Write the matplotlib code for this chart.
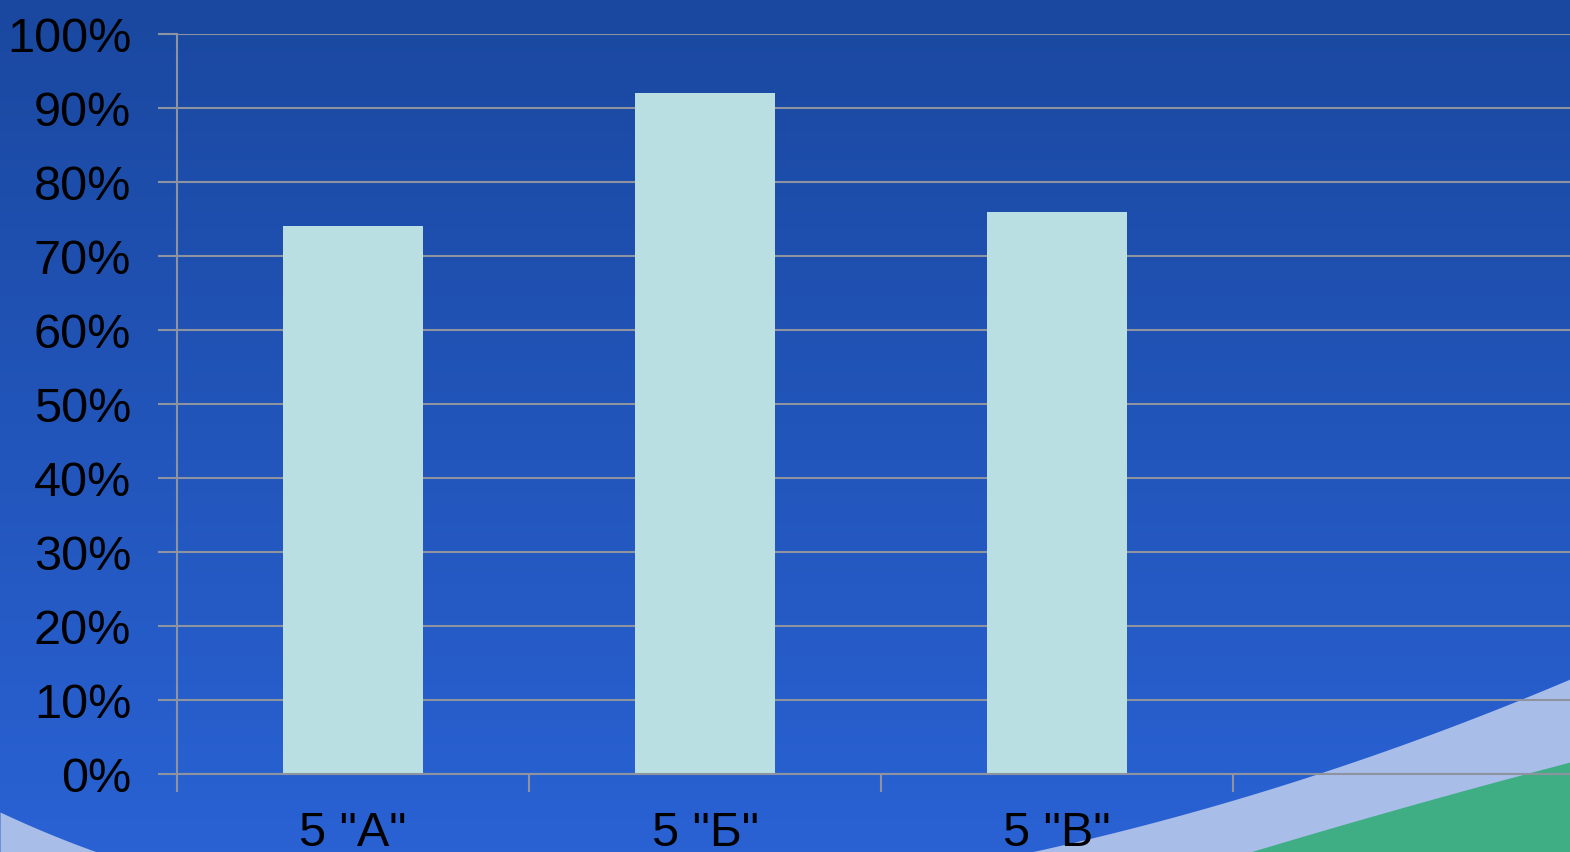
import numpy as np
import matplotlib
matplotlib.use("Agg")
import matplotlib.pyplot as plt
from matplotlib.ticker import FuncFormatter

# chart data
categories = ['5 "А"', '5 "Б"', '5 "В"', '']
values = [0.74, 0.92, 0.76, np.nan]
y_ticks = [0.0, 0.1, 0.2, 0.3, 0.4, 0.5, 0.6, 0.7, 0.8, 0.9, 1.0]

W, H = 1570, 853
plt.rcParams['font.family'] = ['Liberation Sans', 'DejaVu Sans']

fig = plt.figure(figsize=(W / 100, H / 100), dpi=100)

# background: blue gradient plus the slide's corner swooshes
bg = fig.add_axes([0, 0, 1, 1])
bg.set_xlim(0, W)
bg.set_ylim(H, 0)
bg.axis('off')
grad = np.linspace(0, 1, 256)[:, None]
top = np.array([0x1a, 0x48, 0xa0]) / 255
bottom = np.array([0x2a, 0x62, 0xd4]) / 255
img = top + (bottom - top) * grad[..., None]
img = np.repeat(img, 2, axis=1)
bg.imshow(img, extent=[0, W, H, 0], aspect='auto', zorder=0)

xs = np.linspace(1000, W, 80)
light_fit = np.polyfit([1100, 1317, 1570], [837, 775, 680], 2)
ly = np.polyval(light_fit, xs)
bg.fill_between(xs, ly, H + 5, color='#a9bde9', zorder=1, linewidth=0)
xg = np.linspace(1200, W, 80)
green_fit = np.polyfit([1250, 1433, 1570], [853, 800, 763], 2)
gy = np.polyval(green_fit, xg)
bg.fill_between(xg, gy, H + 5, color='#3fae84', zorder=2, linewidth=0)
xl = np.linspace(0, 110, 40)
left_fit = np.polyfit([0, 50, 97], [813, 835, 853], 2)
bg.fill_between(xl, np.polyval(left_fit, xl), H + 5, color='#a9bde9', zorder=1, linewidth=0)

# main chart axes (it runs off the right edge like the original)
left = 177 / W
bot = (H - 775) / H
ax = fig.add_axes([left, bot, 1408 / W, 740 / H])
ax.patch.set_alpha(0)

x = np.arange(len(categories))
ax.bar(x, values, width=0.4, color='#b9dfe2', zorder=3)

ax.set_xlim(-0.5, len(categories) - 0.5)
ax.set_ylim(0, 1)
ax.set_yticks(y_ticks)
ax.yaxis.set_major_formatter(FuncFormatter(lambda v, p: f'{v * 100:.0f}%'))
ax.set_xticks(x)
ax.set_xticklabels(categories)
ax.set_xticks(np.arange(len(categories) + 1) - 0.5, minor=True)

grey = '#8e93a0'
ax.grid(axis='y', color=grey, linewidth=1.5, zorder=1)
ax.set_axisbelow(True)
for s in ['top', 'right']:
    ax.spines[s].set_visible(False)
for s in ['left', 'bottom']:
    ax.spines[s].set_color(grey)
    ax.spines[s].set_linewidth(1.5)
    ax.spines[s].set_zorder(4)

ax.tick_params(axis='y', length=14, width=1.5, color=grey, labelsize=35,
               labelcolor='black', pad=19)
ax.tick_params(axis='x', which='major', length=0, labelsize=35,
               labelcolor='black', pad=26)
ax.tick_params(axis='x', which='minor', length=13, width=1.5, color=grey)

fig.savefig('out.png', dpi=100)
